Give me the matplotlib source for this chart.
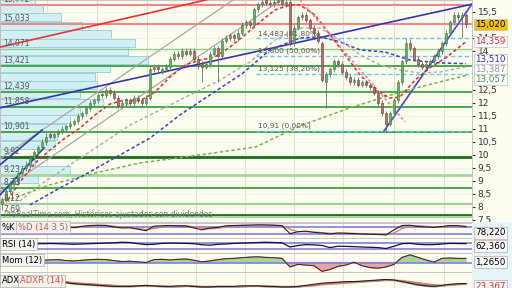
import numpy as np
import matplotlib
matplotlib.use('Agg')
import matplotlib.pyplot as plt
from matplotlib.ticker import FuncFormatter
from matplotlib.transforms import blended_transform_factory
from matplotlib.patches import Rectangle

# ---- price candles ----
opens = [8.1, 8.3, 8.6, 8.9, 9.0, 9.3, 9.5, 9.6, 9.9, 10.1,
         10.3, 10.5, 10.8, 10.7, 10.8, 10.9, 11.0, 11.1, 11.2, 11.3,
         11.5, 11.6, 11.8, 12.0, 12.1, 12.35, 12.3, 12.5, 12.4, 12.2,
         11.9, 12.0, 12.1, 12.0, 12.2, 12.1, 12.0, 12.2, 13.3, 13.4,
         13.2, 13.3, 13.4, 13.7, 13.9, 13.8, 14.0, 13.9, 14.0, 13.7,
         13.5, 13.4, 13.5, 13.9, 14.1, 13.8, 14.4, 14.5, 14.6, 14.5,
         14.7, 15.0, 15.1, 15.0, 15.6, 15.8, 15.95, 15.85, 15.8, 15.9,
         15.95, 15.8, 15.9, 14.3, 14.9, 15.3, 15.4, 15.2, 14.9, 14.7,
         14.3, 12.8, 13.1, 13.3, 13.6, 13.5, 13.2, 13.0, 12.8, 12.9,
         12.7, 12.8, 12.7, 12.6, 12.4, 12.0, 11.6, 11.2, 11.6, 12.1,
         12.8, 13.6, 14.3, 14.1, 13.7, 13.5, 13.4, 13.5, 13.6, 13.8,
         14.0, 14.3, 14.7, 15.1, 15.4, 15.3, 15.4]
highs = [8.4, 8.7, 9.0, 9.15, 9.4, 9.6, 9.75, 10.0, 10.2, 10.4,
         10.6, 10.85, 10.9, 10.9, 11.0, 11.1, 11.2, 11.3, 11.4, 11.6,
         11.7, 11.9, 12.1, 12.2, 12.4, 12.45, 12.6, 12.6, 12.5, 12.3,
         12.1, 12.2, 12.2, 12.3, 12.3, 12.2, 12.3, 13.4, 13.5, 13.5,
         13.4, 13.5, 13.8, 14.0, 14.0, 14.1, 14.1, 14.1, 14.1, 13.8,
         13.6, 13.6, 14.0, 14.2, 14.2, 14.5, 14.6, 14.7, 14.7, 14.8,
         15.1, 15.2, 15.2, 15.7, 15.9, 16.0, 16.05, 15.95, 16.0, 16.1,
         16.05, 16.0, 16.0, 15.0, 15.4, 15.5, 15.5, 15.25, 15.0, 14.8,
         14.4, 13.2, 13.4, 13.7, 13.7, 13.6, 13.3, 13.1, 13.0, 13.0,
         12.9, 12.9, 12.8, 12.7, 12.5, 12.1, 11.7, 11.7, 12.2, 12.9,
         13.7, 14.5, 14.45, 14.2, 13.8, 13.6, 13.6, 13.7, 13.9, 14.1,
         14.4, 14.8, 15.2, 15.5, 15.5, 15.5, 15.45]
lows = [7.9, 8.2, 8.5, 8.8, 8.9, 9.2, 9.4, 9.5, 9.8, 10.0,
        10.2, 10.4, 10.6, 10.6, 10.7, 10.8, 10.9, 11.0, 11.1, 11.2,
        11.4, 11.5, 11.7, 11.9, 12.0, 12.2, 12.2, 12.3, 12.1, 11.8,
        11.8, 11.9, 11.9, 11.9, 12.0, 11.9, 11.9, 12.1, 13.2, 13.2,
        13.1, 13.2, 13.3, 13.6, 13.7, 13.7, 13.8, 13.8, 13.6, 13.3,
        12.8, 13.3, 13.4, 13.8, 12.8, 13.7, 14.3, 14.4, 14.4, 14.4,
        14.6, 14.9, 14.9, 14.9, 15.5, 15.7, 15.75, 15.7, 15.7, 15.8,
        15.7, 15.7, 14.2, 14.2, 14.8, 15.2, 15.1, 14.8, 14.6, 14.3,
        12.8, 11.8, 13.0, 13.2, 13.4, 13.1, 12.9, 12.7, 12.7, 12.6,
        12.6, 12.6, 12.5, 12.3, 11.9, 11.5, 10.91, 11.1, 11.5, 12.0,
        12.7, 13.5, 14.0, 13.6, 13.4, 13.3, 13.3, 13.4, 13.5, 13.7,
        13.9, 14.2, 14.6, 15.0, 15.2, 14.5, 14.9]
closes = [8.3, 8.6, 8.9, 9.0, 9.3, 9.5, 9.6, 9.9, 10.1, 10.3,
          10.5, 10.7, 10.7, 10.8, 10.9, 11.0, 11.1, 11.2, 11.3, 11.5,
          11.6, 11.8, 12.0, 12.1, 12.3, 12.3, 12.5, 12.4, 12.2, 11.9,
          12.0, 12.1, 12.0, 12.2, 12.1, 12.0, 12.2, 13.3, 13.4, 13.3,
          13.3, 13.4, 13.7, 13.9, 13.8, 14.0, 13.9, 14.0, 13.7, 13.5,
          13.4, 13.5, 13.9, 14.1, 13.8, 14.4, 14.5, 14.6, 14.5, 14.7,
          15.0, 15.1, 15.0, 15.6, 15.8, 15.9, 15.85, 15.8, 15.9, 15.95,
          15.8, 15.9, 14.3, 14.9, 15.3, 15.4, 15.2, 14.9, 14.7, 14.4,
          12.9, 13.1, 13.3, 13.6, 13.5, 13.2, 13.0, 12.8, 12.9, 12.7,
          12.8, 12.7, 12.6, 12.4, 12.0, 11.6, 11.2, 11.6, 12.1, 12.8,
          13.6, 14.3, 14.1, 13.7, 13.5, 13.4, 13.5, 13.6, 13.8, 14.0,
          14.3, 14.7, 15.1, 15.4, 15.3, 15.4, 15.02]

# ---- volume profile (price bin, length in bars) ----
vp_price = [15.95, 15.62, 15.30, 14.97, 14.64, 14.31, 13.99, 13.66, 13.33, 13.01, 12.68, 12.35,
            12.02, 11.70, 11.37, 11.04, 10.72, 10.39, 10.06, 9.74, 9.41, 9.08, 8.75]
vp_size = [8.75, 10.75, 15.25, 20.5, 27.75, 33.75, 32, 37, 27.5, 23.75, 24.25, 20,
           25.75, 20, 17.5, 16.25, 14.25, 13.75, 3, 8.75, 17.5, 9.5, 3.25]

# ---- support / resistance ----
green_levels = [14.071, 13.421, 12.439, 11.858, 10.901, 9.92, 9.23, 8.73, 8.12, 7.69, 7.60]
green_labels = ['14,071', '13,421', '12,439', '11,858', '10,901', '9,92', '9,23', '8,73', '8,12', '7,69', '']
red_levels = [15.772, 15.033]
red_labels = ['15,772', '15,033']

fib_levels = [14.483, 13.800, 13.125, 10.91]
fib_labels = ['14,483 (61,80%)', '13,800 (50,00%)', '13,125 (38,20%)', '10,91 (0,00%)']
fib_start = 63.5

# ---- trend lines ----
red_tl_x, red_tl_y = [-0.5, 60], [14.15, 16.28]
blue_tl_x, blue_tl_y = [-0.5, 117.5], [11.81, 15.8]
blue_up_x, blue_up_y = [95.5, 117.5], [10.92, 15.81]
blue_e1_x, blue_e1_y = [-0.5, 10], [9.62, 10.96]
blue_e2_x, blue_e2_y = [-0.5, 10.5], [8.46, 10.27]
gray1_x, gray1_y = [-0.5, 57.75], [9.85, 15.96]
gray2_x, gray2_y = [-0.5, 69.75], [8.58, 15.96]
pink_x, pink_y = [74.5, 100.75], [15.96, 11.27]

# ---- moving averages ----
ma_red_x = [1.5, 4.5, 8.25, 12, 15.75, 19.5, 23.25, 27, 30.75, 34.5, 38.25, 42, 45.75, 49.5, 53.25, 57,
            60.75, 64.5, 68.25, 72, 74.5, 78.25, 82, 85.75, 89.5, 93.25, 97, 99.5, 103.25, 107, 111.25, 116]
ma_red = [8.27, 8.96, 9.69, 10.19, 10.65, 11.04, 11.54, 11.96, 12.12, 12.08, 12.42, 13.0, 13.46, 13.65, 13.77, 14.15,
          14.62, 15.12, 15.58, 15.77, 15.77, 15.38, 14.62, 13.85, 13.08, 12.5, 12.19, 12.23, 12.88, 13.35, 13.77, 14.359]
ma_gray_x = [3.25, 9.5, 17, 24.5, 32, 39.5, 47, 54.5, 62, 68.25, 74.5, 79.5, 84.5, 89.5, 94.5, 99.5, 104.5, 109.5, 116]
ma_gray = [8.08, 8.85, 9.62, 10.38, 11.15, 11.73, 12.31, 12.88, 13.58, 14.42, 14.88, 14.88, 14.42, 13.85, 13.46,
           13.27, 13.15, 13.19, 13.387]
ma_blue_x = [7, 14.5, 22, 29.5, 37, 44.5, 52, 60.25, 67, 74.5, 79.5, 84.5, 89.5, 95.75, 102, 109.5, 116]
ma_blue = [8.08, 8.73, 9.35, 10.0, 10.65, 11.54, 12.31, 13.15, 14.04, 14.5, 14.54, 14.35, 14.04, 13.96, 13.65,
           13.54, 13.51]
ma_green_x = [-0.5, 12, 24.5, 34.5, 49.5, 63.5, 74.5, 87, 99.5, 109.5, 116]
ma_green = [8.15, 8.85, 9.35, 9.69, 10.0, 10.31, 11.12, 11.81, 12.42, 12.81, 13.057]

# ---- indicators (one value every 2 bars) ----
pct_k = [85, 84, 86, 88, 87, 90, 88, 86, 80, 72, 84, 90, 92, 90, 78, 70, 72, 60, 48, 85,
         88, 90, 88, 86, 70, 55, 70, 75, 88, 90, 92, 93, 95, 94, 92, 88, 25, 40, 45, 35,
         30, 22, 30, 28, 25, 22, 20, 18, 15, 55, 90, 92, 82, 78, 75, 82, 90, 88, 80]
pct_d = [84, 84, 85, 86, 87, 88, 88, 87, 84, 78, 80, 85, 90, 91, 85, 78, 73, 67, 58, 65,
         78, 88, 89, 88, 80, 68, 63, 68, 78, 86, 90, 92, 94, 94, 93, 90, 60, 40, 40, 38,
         33, 28, 27, 28, 27, 25, 22, 20, 18, 30, 65, 85, 88, 83, 78, 79, 85, 88, 84]
rsi = [55, 56, 57, 58, 60, 62, 63, 62, 60, 58, 60, 62, 64, 66, 68, 72, 70, 62, 56, 58,
       64, 66, 65, 64, 62, 55, 52, 58, 60, 64, 66, 68, 70, 72, 70, 68, 40, 50, 56, 54,
       50, 36, 45, 44, 42, 40, 38, 36, 30, 45, 62, 64, 58, 55, 56, 60, 64, 63, 62.4]
mom = [0.4, 0.5, 0.6, 0.7, 0.8, 0.7, 0.8, 0.9, 0.6, 0.5, 0.7, 0.9, 1.0, 0.9, 0.6, 0.3, 0.4, 0.2, 0.0, 0.9,
       1.0, 0.8, 1.0, 1.1, 0.7, 0.2, 0.5, 0.9, 1.2, 1.3, 1.5, 1.7, 1.8, 1.6, 1.5, 1.3, -1.4, -0.6, -0.8, -1.0,
       -2.8, -2.2, -1.2, -0.8, 0.1, -1.0, -1.6, -1.8, -1.4, -0.6, 1.6, 2.4, 1.6, 0.8, 0.1, 1.3, 1.4, 1.3, 1.27]
adx = [18, 20, 26, 30, 32, 31, 29, 27, 25, 23, 22, 21, 20, 19, 18, 18, 18, 19, 20, 19,
       18, 18, 19, 19, 18, 17, 17, 18, 18, 18, 19, 19, 19, 18, 18, 17, 17, 18, 20, 22,
       24, 25, 26, 27, 27, 28, 29, 30, 31, 30, 27, 24, 21, 19, 18, 20, 22, 23, 23.4]
adxr = [19, 19, 22, 26, 29, 30, 30, 29, 27, 25, 24, 23, 22, 21, 20, 19, 19, 19, 19, 19,
        19, 18, 18, 19, 19, 18, 18, 18, 18, 18, 18, 19, 19, 19, 18, 18, 18, 18, 19, 20,
        22, 23, 24, 25, 26, 27, 28, 29, 30, 30, 29, 27, 25, 23, 21, 20, 21, 22, 23]

# right-axis ticks (15, 13,5 and 13 sit under the value boxes)
price_ticks = [7.5, 8, 8.5, 9, 9.5, 10, 10.5, 11, 11.5, 12, 12.5, 14, 14.5, 15.5]
month_lines = [11.25, 23.75, 36.25, 48.5, 60.75, 73, 85.25, 98, 110.5]

BG = '#fdfdf0'
W, H = 512, 288
RIGHT = 472


def rect(top, bottom):
    return [0, 1 - bottom / H, RIGHT / W, (bottom - top) / H]


fig = plt.figure(figsize=(W / 100, H / 100), dpi=100)
fig.patch.set_facecolor(BG)
fig.patches.append(Rectangle((RIGHT / W, 0), 1 - RIGHT / W, 1 - 222 / H, transform=fig.transFigure,
                             facecolor='#e6f6f8', edgecolor='none', zorder=0))

ax = fig.add_axes(rect(0, 222))
ax_k = fig.add_axes(rect(223, 238))
ax_r = fig.add_axes(rect(238, 253))
ax_m = fig.add_axes(rect(253, 272))
ax_a = fig.add_axes(rect(272, 288))

for a in [ax, ax_k, ax_r, ax_m, ax_a]:
    a.set_facecolor(BG)
    a.set_xlim(-0.5, 117.5)
    a.set_xticks([])
    for s in a.spines.values():
        s.set_color('#bdbdbd')
        s.set_linewidth(0.6)
    for m in month_lines:
        a.axvline(m, color='#e2e2d4', lw=0.8, zorder=0)

# ---- main price panel ----
ax.set_ylim(7.42, 15.96)
ax.yaxis.tick_right()
ax.set_yticks(price_ticks)
ax.yaxis.set_major_formatter(FuncFormatter(lambda v, p: f'{v:g}'.replace('.', ',')))
ax.tick_params(axis='y', labelsize=6.5, length=2, pad=2, colors='#333333')
ax.grid(axis='y', color='#efefe2', lw=0.5, zorder=0)

ax.barh(vp_price, vp_size, height=0.30, left=-0.5, color='#d2f0f4', edgecolor='#8ecfd8', lw=0.6, zorder=1)

g_colors = ['#8fd18f', '#2f9a2f', '#2f9a2f', '#2f9a2f', '#2f9a2f', '#1d6e1d', '#a8d8a0', '#2f9a2f', '#9ed49a', '#1d6e1d', '#a8d8a0']
g_widths = [1.0, 1.2, 1.2, 1.2, 1.2, 2.0, 2.0, 1.2, 1.6, 2.0, 1.5]
for lvl, lab, col, lw in zip(green_levels, green_labels, g_colors, g_widths):
    ax.axhline(lvl, color=col, lw=lw, zorder=2)
    ax.text(0.3, lvl + 0.03, lab, fontsize=5.5, color='#555555', va='bottom', zorder=6)
for lvl, lab in zip(red_levels, red_labels):
    ax.axhline(lvl, color='#f08888', lw=1.5, zorder=2)
    ax.text(0.3, lvl + 0.03, lab, fontsize=5.5, color='#555555', va='bottom', zorder=6)

for lvl, lab in zip(fib_levels, fib_labels):
    ax.plot([fib_start, 117.5], [lvl, lvl], color='#66c8ec', lw=1.0, ls=(0, (3, 2)), zorder=2)
    ax.text(fib_start + 0.5, lvl + 0.07, lab, fontsize=5.3, color='#555555', va='bottom', zorder=6)

ax.plot(gray1_x, gray1_y, color='#a8a8a8', lw=0.9, zorder=3)
ax.plot(gray2_x, gray2_y, color='#a8a8a8', lw=0.9, zorder=3)
ax.plot(red_tl_x, red_tl_y, color='#ee3333', lw=1.2, zorder=3)
ax.plot(blue_tl_x, blue_tl_y, color='#3535b5', lw=1.2, zorder=3)
ax.plot(blue_up_x, blue_up_y, color='#4545e0', lw=1.2, zorder=3)
ax.plot(blue_e1_x, blue_e1_y, color='#3535b5', lw=1.2, zorder=3)
ax.plot(blue_e2_x, blue_e2_y, color='#3535b5', lw=1.2, zorder=3)

dash = (0, (2.2, 1.6))
ax.plot(ma_green_x, ma_green, color='#74b844', lw=1.1, ls=dash, zorder=3)
ax.plot(ma_blue_x, ma_blue, color='#3344cc', lw=1.1, ls=dash, zorder=3)
ax.plot(ma_gray_x, ma_gray, color='#b0b0b0', lw=1.1, ls=dash, zorder=3)
ax.plot(ma_red_x, ma_red, color='#e03030', lw=1.1, ls=dash, zorder=3)
ax.plot(pink_x, pink_y, color='#f08080', lw=1.2, ls=(0, (1.5, 1.5)), zorder=3)

x = np.arange(len(closes))
o = np.array(opens)
c = np.array(closes)
up = c >= o
ax.vlines(x, lows, highs, color='#707070', lw=0.6, zorder=4)
ax.bar(x[up], (c - o)[up], bottom=o[up], width=0.62, color='#5cb85c', edgecolor='#2e7d32', lw=0.4, zorder=5)
ax.bar(x[~up], (o - c)[~up], bottom=c[~up], width=0.62, color='#c46a6a', edgecolor='#7a3030', lw=0.4, zorder=5)

ax.text(0.5, 7.63, 'ProRealTime.com, Históricos ajustados con dividendos', fontsize=5.5, color='#777777', zorder=6)

trans = blended_transform_factory(ax.transAxes, ax.transData)
box_vals = [closes[-1], ma_red[-1], ma_blue[-1], ma_gray[-1], ma_green[-1]]
box_fc = ['#f2c200', 'white', 'white', 'white', 'white']
box_tc = ['black', '#d62b2b', '#2a2ad0', '#999999', '#3a9a3a']
box_dy = [0, 0, 2.8, -1.8, -3.0]
for v, fc, tc, dy in zip(box_vals, box_fc, box_tc, box_dy):
    ax.annotate(f'{v:.3f}'.replace('.', ','), xy=(1, v), xycoords=trans, xytext=(2.5, dy),
                textcoords='offset points', fontsize=6.3, color=tc, va='center', ha='left',
                annotation_clip=False, zorder=10,
                bbox=dict(boxstyle='square,pad=0.15', fc=fc, ec='#c0c0c0', lw=0.5))

# ---- indicator panels ----
sx = np.arange(len(pct_k)) * 2
ax_k.set_ylim(-10, 110)
ax_k.axhline(80, color='#8080e0', lw=1.2)
ax_k.axhline(20, color='#8080e0', lw=1.2)
ax_k.plot(sx, pct_d, color='#f07070', lw=0.9)
ax_k.plot(sx, pct_k, color='#222222', lw=0.8)

ax_r.set_ylim(0, 100)
ax_r.axhline(70, color='#8080e0', lw=1.2)
ax_r.axhline(30, color='#8080e0', lw=1.2)
ax_r.plot(np.arange(len(rsi)) * 2, rsi, color='#111144', lw=0.9)

m = np.array(mom)
mx = np.arange(len(mom)) * 2
ax_m.set_ylim(-3, 3)
ax_m.fill_between(mx, m, 0, where=m >= 0, interpolate=True, color='#a6d49a')
ax_m.fill_between(mx, m, 0, where=m < 0, interpolate=True, color='#e6a6a0')
ax_m.axhline(0, color='#8080e0', lw=1.2)
ax_m.plot(mx, m, color='#f07070', lw=0.8)
ax_m.plot(mx, m, color='#222222', lw=0.6)

ax_a.set_ylim(15, 45)
ax_a.fill_between(np.arange(len(adx)) * 2, adx, adxr, color='#808080', alpha=0.7)
ax_a.plot(np.arange(len(adxr)) * 2, adxr, color='#f07070', lw=0.9)
ax_a.plot(np.arange(len(adx)) * 2, adx, color='#222222', lw=0.8)

for a in [ax_k, ax_r, ax_m, ax_a]:
    a.set_yticks([])

lab_box = dict(boxstyle='square,pad=0.2', fc='#f2f2ee', ec='#b0b0b0', lw=0.5)
ax_k.text(0.004, 0.73, '%K', transform=ax_k.transAxes, fontsize=6, va='center', bbox=lab_box, zorder=10)
ax_k.text(0.038, 0.73, '%D (14 3 5)', transform=ax_k.transAxes, fontsize=6, color='#e05050', va='center', bbox=lab_box, zorder=10)
ax_r.text(0.004, 0.6, 'RSI (14)', transform=ax_r.transAxes, fontsize=6, va='center', bbox=lab_box, zorder=10)
ax_m.text(0.004, 0.63, 'Mom (12)', transform=ax_m.transAxes, fontsize=6, va='center', bbox=lab_box, zorder=10)
ax_a.text(0.004, 0.44, 'ADX', transform=ax_a.transAxes, fontsize=6, va='center', bbox=lab_box, zorder=10)
ax_a.text(0.042, 0.44, 'ADXR (14)', transform=ax_a.transAxes, fontsize=6, color='#e05050', va='center', bbox=lab_box, zorder=10)

val_box = dict(boxstyle='square,pad=0.15', fc='#f7f7f7', ec='#b0b0b0', lw=0.5)
fig.text(475 / W, 1 - 233 / H, '78,220', fontsize=6.3, va='center', bbox=val_box)
fig.text(475 / W, 1 - 246 / H, '62,360', fontsize=6.3, va='center', bbox=val_box)
fig.text(475 / W, 1 - 262 / H, '1,2650', fontsize=6.3, va='center', bbox=val_box)
fig.text(475 / W, 1 - 286 / H, '23,367', fontsize=6.3, color='#d62b2b', va='center', bbox=val_box)

fig.savefig('out.png', dpi=100, facecolor=BG)
